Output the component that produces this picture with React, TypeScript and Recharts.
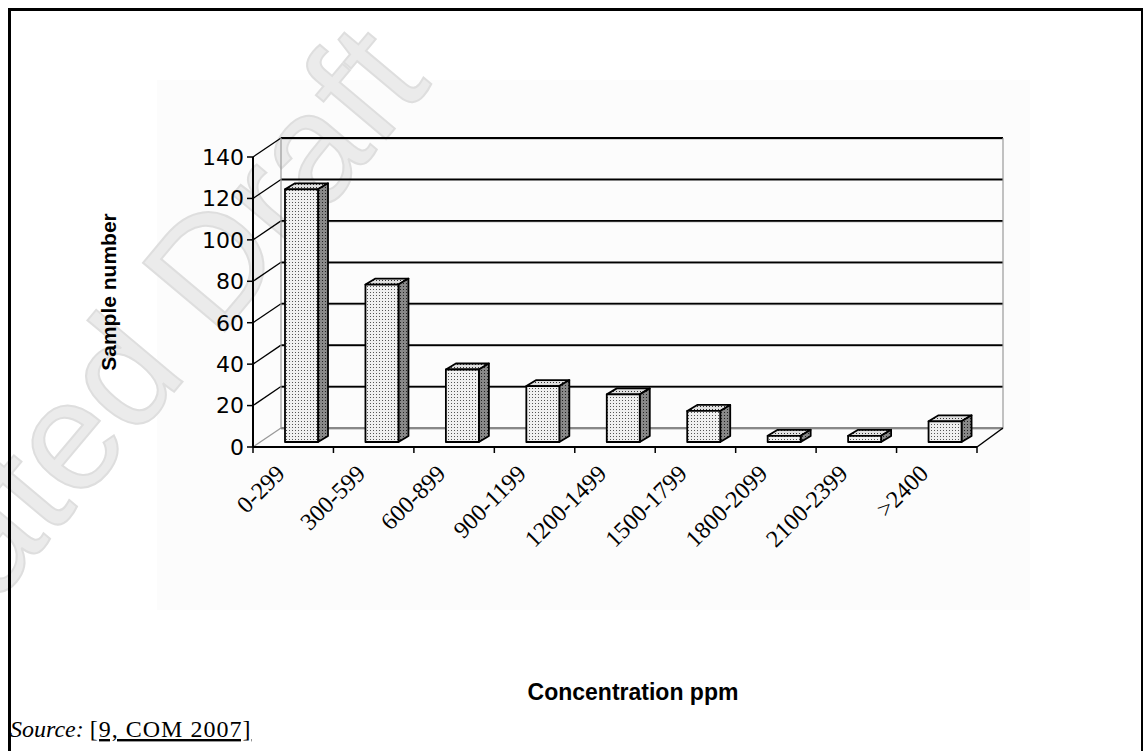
import { BarChart, Bar, XAxis, YAxis, CartesianGrid } from 'recharts'

const categories = ['0-299', '300-599', '600-899', '900-1199', '1200-1499', '1500-1799', '1800-2099', '2100-2399', '>2400']
const sampleCounts = [122, 76, 35, 27, 23, 15, 3, 3, 10]
const yTicks = [0, 20, 40, 60, 80, 100, 120, 140]

const chartData = categories.map((range, i) => ({ range, samples: sampleCounts[i] }))

// layout of the plot front plane, in page pixels
const W = 1143
const H = 751
const PLOT_LEFT = 253
const PLOT_TOP = 157
const PLOT_RIGHT = 977
const PLOT_BOTTOM = 447
const YAXIS_W = 80
const XAXIS_H = 120
const BAND = (PLOT_RIGHT - PLOT_LEFT) / categories.length

// 3d offsets
const WALL_DX = 28
const WALL_DY = 19
const BAR_DX = 10
const BAR_DY = 6
const BAR_SHIFT_X = 8
const BAR_SHIFT_Y = 5

const Box3D = (props: any) => {
  const { x, y, width, height } = props
  const fx = x + BAR_SHIFT_X
  const top = y - BAR_SHIFT_Y
  const bottom = y + height - BAR_SHIFT_Y
  const r = fx + width
  return (
    <g stroke="#000" strokeWidth={1.8} strokeLinejoin="round">
      <polygon points={`${fx},${top} ${fx + BAR_DX},${top - BAR_DY} ${r + BAR_DX},${top - BAR_DY} ${r},${top}`} fill="url(#dotsTop)" />
      <polygon points={`${r},${top} ${r + BAR_DX},${top - BAR_DY} ${r + BAR_DX},${bottom - BAR_DY} ${r},${bottom}`} fill="url(#dotsSide)" />
      <rect x={fx} y={top} width={width} height={bottom - top} fill="url(#dotsFront)" />
    </g>
  )
}

const BackGridLine = (props: any) => {
  const { x1, x2, y1 } = props
  const floor = Math.abs(y1 - PLOT_BOTTOM) < 1
  return (
    <g key={`h-${y1}`}>
      <line x1={x1 + WALL_DX} y1={y1 - WALL_DY + 1} x2={x2 + WALL_DX - 2} y2={y1 - WALL_DY + 1} stroke="#aaa" strokeWidth={1} />
      <line x1={x1 + WALL_DX} y1={y1 - WALL_DY} x2={x2 + WALL_DX - 2} y2={y1 - WALL_DY} stroke={floor ? '#888' : '#000'} strokeWidth={1.8} />
      <line x1={x1} y1={y1} x2={x1 + WALL_DX} y2={y1 - WALL_DY} stroke={floor ? '#999' : '#000'} strokeWidth={1.3} />
    </g>
  )
}

const WallEdge = (props: any) => {
  const { x1, y1, y2 } = props
  const right = Math.abs(x1 - PLOT_RIGHT) < 1
  return (
    <g key={`v-${x1}`}>
      <line x1={x1 + WALL_DX - (right ? 2 : 0)} y1={y1 - WALL_DY} x2={x1 + WALL_DX - (right ? 2 : 0)} y2={y2 - WALL_DY} stroke="#999" strokeWidth={1.2} />
      {right && <line x1={x1} y1={y2} x2={x1 + WALL_DX - 2} y2={y2 - WALL_DY} stroke="#000" strokeWidth={1.5} />}
    </g>
  )
}

const CategoryTick = (props: any) => {
  const { x, y, payload, index } = props
  return (
    <g>
      <line x1={x + BAND / 2} y1={PLOT_BOTTOM} x2={x + BAND / 2} y2={PLOT_BOTTOM + 6} stroke="#000" strokeWidth={1.5} />
      {index === 0 && <line x1={x - BAND / 2} y1={PLOT_BOTTOM} x2={x - BAND / 2} y2={PLOT_BOTTOM + 6} stroke="#000" strokeWidth={1.5} />}
      <text
        transform={`translate(${x - 7},${y + 20}) rotate(-45)`}
        textAnchor="end"
        fontFamily="'Liberation Serif', 'Times New Roman', serif"
        fontSize={24}
        fill="#000"
      >
        {payload.value}
      </text>
    </g>
  )
}

export default function App() {
  return (
    <div style={{ position: 'absolute', left: 0, top: 0, width: W, height: H, overflow: 'hidden', background: '#fff' }}>
      <div style={{ position: 'absolute', left: 157, top: 80, width: 873, height: 530, background: '#fcfcfc' }} />
      <svg width={W} height={H} style={{ position: 'absolute', left: 0, top: 0 }}>
        <text
          transform="translate(-5,605) rotate(-50)"
          fontFamily="'Liberation Sans', Arial, sans-serif"
          fontSize={155}
          fill="#ebebeb"
          stroke="#dedede"
          strokeWidth={2}
        >
          ated Draft
        </text>
      </svg>
      <div style={{ position: 'absolute', left: 8, top: 8, width: 1130, height: 800, border: '3px solid #000' }} />
      <div style={{ position: 'absolute', left: 0, top: 0 }}>
        <BarChart
          width={W}
          height={H}
          data={chartData}
          margin={{ top: PLOT_TOP, left: PLOT_LEFT - YAXIS_W, right: W - PLOT_RIGHT, bottom: H - PLOT_BOTTOM - XAXIS_H }}
        >
          <defs>
            <pattern id="dotsFront" width={3} height={3} patternUnits="userSpaceOnUse">
              <rect width={3} height={3} fill="#f0f0f0" />
              <rect x={1} y={1} width={1} height={1} fill="#555" />
            </pattern>
            <pattern id="dotsTop" width={3} height={3} patternUnits="userSpaceOnUse">
              <rect width={3} height={3} fill="#e0e0e0" />
              <rect x={1} y={1} width={1} height={1} fill="#333" />
            </pattern>
            <pattern id="dotsSide" width={3} height={3} patternUnits="userSpaceOnUse">
              <rect width={3} height={3} fill="#888" />
              <rect x={1} y={1} width={1} height={1} fill="#222" />
            </pattern>
          </defs>
          <CartesianGrid
            horizontal={BackGridLine}
            vertical={WallEdge}
            verticalCoordinatesGenerator={({ offset }: any) => [offset.left, offset.left + offset.width]}
          />
          <XAxis
            dataKey="range"
            interval={0}
            height={XAXIS_H}
            tickLine={false}
            axisLine={{ stroke: '#000', strokeWidth: 2 }}
            tick={<CategoryTick />}
          />
          <YAxis
            domain={[0, 140]}
            ticks={yTicks}
            width={YAXIS_W}
            tickSize={6}
            tickMargin={3}
            axisLine={{ stroke: '#000', strokeWidth: 2 }}
            tickLine={{ stroke: '#000', strokeWidth: 1.5 }}
            tick={{ fill: '#000', fontSize: 22, fontFamily: "'DejaVu Sans', Verdana, sans-serif" }}
          />
          <Bar dataKey="samples" barSize={33} shape={<Box3D />} isAnimationActive={false} />
        </BarChart>
      </div>
      <svg width={W} height={H} style={{ position: 'absolute', left: 0, top: 0, pointerEvents: 'none' }}>
        <text
          transform="translate(108,292) rotate(-90)"
          textAnchor="middle"
          dominantBaseline="central"
          fontFamily="'Liberation Sans', Arial, sans-serif"
          fontWeight="bold"
          fontSize={21}
          fill="#000"
        >
          Sample number
        </text>
        <text x={633} y={700} textAnchor="middle" fontFamily="'Liberation Sans', Arial, sans-serif" fontWeight="bold" fontSize={23} fill="#000">
          Concentration ppm
        </text>
        <text x={10} y={737} fontFamily="'Liberation Serif', 'Times New Roman', serif" fontSize={24} fill="#000">
          <tspan fontStyle="italic">Source:</tspan>
          <tspan> </tspan>
          <tspan textDecoration="underline" letterSpacing={1}>[9, COM 2007]</tspan>
        </text>
      </svg>
    </div>
  )
}
